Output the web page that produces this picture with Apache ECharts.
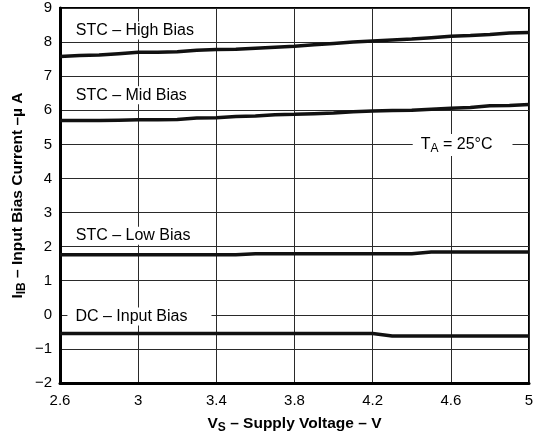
<!DOCTYPE html>
<html>
<head>
<meta charset="utf-8">
<script src="https://cdn.jsdelivr.net/npm/echarts@6/dist/echarts.min.js"></script>
<style>html,body{margin:0;padding:0;background:#fff;}#c{width:542px;height:437px;}</style>
</head>
<body>
<div id="c"></div>
<script>
const voltage = [2.6,2.7,2.8,2.9,3.0,3.1,3.2,3.3,3.4,3.5,3.6,3.7,3.8,3.9,4.0,4.1,4.2,4.3,4.4,4.5,4.6,4.7,4.8,4.9,5.0];
const highBias = [7.58,7.61,7.62,7.66,7.70,7.70,7.72,7.76,7.78,7.79,7.82,7.85,7.88,7.92,7.96,8.00,8.03,8.06,8.09,8.13,8.17,8.19,8.22,8.27,8.28];
const midBias  = [5.70,5.70,5.70,5.71,5.72,5.72,5.73,5.77,5.78,5.82,5.83,5.87,5.88,5.90,5.92,5.96,5.98,5.99,6.00,6.03,6.06,6.08,6.13,6.14,6.17];
const lowBias  = [1.76,1.76,1.76,1.76,1.76,1.76,1.76,1.76,1.76,1.76,1.79,1.79,1.79,1.79,1.79,1.79,1.79,1.79,1.79,1.84,1.84,1.84,1.84,1.84,1.84];
const dcBias   = [-0.55,-0.55,-0.55,-0.55,-0.55,-0.55,-0.55,-0.55,-0.55,-0.55,-0.55,-0.55,-0.55,-0.55,-0.55,-0.55,-0.55,-0.62,-0.62,-0.62,-0.62,-0.62,-0.62,-0.62,-0.62];
const xTicks = [2.6,3.0,3.4,3.8,4.2,4.6,5.0];
const seriesNames = ['STC – High Bias','STC – Mid Bias','STC – Low Bias','DC – Input Bias'];

const FONT = 'Liberation Sans, Arial, Helvetica, sans-serif';
function pairs(vals){ return voltage.map((v,i)=>[v, vals[i]]); }
function lbl(text, x, y, pad){
  return {coord:[x,y], symbol:'rect', symbolSize:0,
    label:{show:true, position:'right', distance:0, formatter:text, color:'#000', fontSize:16, fontFamily:FONT,
      backgroundColor:'#fff', padding:pad||[1,4,1,4]}};
}
const titleRich = {
  m:{fontSize:15.5, fontWeight:'bold', fontFamily:FONT, color:'#000', lineHeight:20},
  s:{fontSize:12, fontWeight:'bold', fontFamily:FONT, color:'#000', lineHeight:20, verticalAlign:'bottom', padding:[7,0,0,0]}
};
const chart = echarts.init(document.getElementById('c'));
const lineStyle = {color:'#111', width:3.5};
chart.setOption({
  animation:false,
  backgroundColor:'#fff',
  grid:{left:60, right:13, top:8, bottom:54, outerBoundsMode:'none', containLabel:false,
    show:true, borderColor:'#000', borderWidth:2, backgroundColor:'transparent'},
  xAxis:{
    type:'value', min:2.6, max:5,
    axisLine:{show:true, onZero:false, lineStyle:{color:'#000', width:3}},
    axisTick:{show:false, customValues:xTicks},
    axisLabel:{customValues:xTicks, color:'#000', fontSize:15, fontFamily:FONT, margin:10,
      formatter:v=> String(Math.round(v*10)/10)},
    splitLine:{show:true, lineStyle:{color:'#2a2a2a', width:1}},
    name:'{m|V}{s|S}{m| – Supply Voltage – V}', nameLocation:'middle', nameGap:31,
    nameTextStyle:{rich:titleRich}
  },
  yAxis:{
    type:'value', min:-2, max:9, interval:1,
    axisLine:{show:true, onZero:false, lineStyle:{color:'#000', width:3}},
    axisTick:{show:false},
    axisLabel:{color:'#000', fontSize:15, fontFamily:FONT, margin:8, formatter:v=> v<0 ? '\u2212'+Math.abs(v) : String(v)},
    splitLine:{show:true, lineStyle:{color:'#2a2a2a', width:1}},
    name:'{m|I}{s|IB}{m| – Input Bias Current –\u00b5 A}', nameLocation:'middle', nameGap:32, nameRotate:90,
    nameMoveOverlap:false,
    nameTextStyle:{rich:titleRich}
  },
  series:[
    {name:seriesNames[0], type:'line', data:pairs(highBias), symbol:'none', lineStyle:lineStyle, z:3,
      markPoint:{data:[lbl(seriesNames[0],2.66,8.34)], z:5}},
    {name:seriesNames[1], type:'line', data:pairs(midBias), symbol:'none', lineStyle:lineStyle, z:3,
      markPoint:{data:[lbl(seriesNames[1],2.66,6.44)], z:5}},
    {name:seriesNames[2], type:'line', data:pairs(lowBias), symbol:'none', lineStyle:lineStyle, z:3,
      markPoint:{data:[lbl(seriesNames[2],2.66,2.32)], z:5}},
    {name:seriesNames[3], type:'line', data:pairs(dcBias), symbol:'none', lineStyle:lineStyle, z:3,
      markPoint:{data:[lbl(seriesNames[3],2.638,-0.05,[1,24,1,8]),
        {coord:[4.405,4.98], symbol:'rect', symbolSize:0,
          label:{show:true, position:'right', distance:0, formatter:'{m|T}{s|A}{m| = 25°C}', backgroundColor:'#fff', padding:[1,20,1,8],
            rich:{m:{fontSize:16, fontFamily:FONT, color:'#000', lineHeight:20},
                  s:{fontSize:12, fontFamily:FONT, color:'#000', lineHeight:20, verticalAlign:'bottom', padding:[7,0,0,0]}}}}
      ], z:5}}
  ]
});
</script>
</body>
</html>
